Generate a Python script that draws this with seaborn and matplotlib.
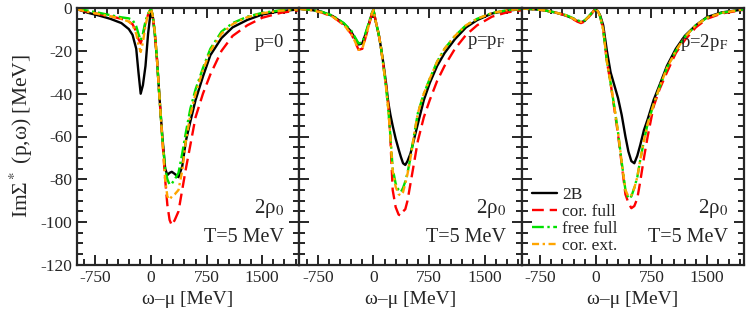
import numpy as np
import pandas as pd
import matplotlib
matplotlib.use("Agg")
import matplotlib.pyplot as plt
import matplotlib.ticker as ticker
import seaborn as sns

# ---- data (omega - mu in MeV, Im Sigma* in MeV) ----
x_p0 = [-1000, -850, -700, -550, -400, -300, -250, -200, -170, -140, -110, -75, -40, -10, 0,
        20, 50, 80, 110, 150, 190, 220, 250, 280, 320, 370, 420, 470, 530, 600, 700, 800,
        950, 1100, 1300, 1500, 1750, 2000]
b2_p0 = [-0.5, -2.2, -3.5, -5.0, -7.0, -9.8, -12.5, -19, -30, -40, -36, -27, -12, -3, -1.0,
         -3, -12, -24, -40, -59, -75, -78, -77, -76.5, -77.5, -79, -74, -62, -53, -43, -32, -22,
         -14, -9, -5.5, -3.0, -1.4, -0.6]
cf_p0 = [-0.5, -1.8, -2.8, -3.8, -5.0, -6.3, -7.5, -11, -14.5, -16.5, -13, -7, -3, -0.8, -0.5,
         -3, -11, -24, -40, -60, -80, -92, -99, -101.5, -99, -95, -85, -75, -64, -51, -40, -31,
         -20, -13, -8, -4.5, -2.2, -1.0]
ff_p0 = [-0.3, -1.2, -2.2, -3.3, -4.3, -4.8, -5.5, -8.5, -12, -15, -12, -6, -2.5, -0.8, -0.5,
         -3, -11, -24, -40, -60, -75, -80, -82.5, -82, -80, -77, -68, -58, -47, -38, -28, -19,
         -11, -7, -4, -2.2, -1.0, -0.5]
ce_p0 = [-0.5, -1.8, -2.8, -3.8, -5.0, -6.3, -7.8, -12, -17, -20.5, -16, -8, -3, -0.8, -0.5,
         -3, -11, -24, -40, -60, -80, -88, -89.5, -88, -87, -85, -76, -62, -50, -40, -29, -20,
         -12, -7.5, -4.2, -2.4, -1.2, -0.6]

x_pf = [-1000, -850, -700, -550, -400, -300, -250, -200, -150, -100, -50, -20, 0, 30, 70, 100,
        135, 170, 200, 230, 260, 300, 340, 370, 400, 430, 460, 500, 550, 600, 680, 760, 860,
        960, 1100, 1250, 1400, 1600, 1800, 2000]
b2_pf = [-0.3, -0.8, -1.7, -3.7, -7.2, -11, -14, -17, -16.5, -11.5, -6, -2.5, -0.8, -6, -12, -18,
         -26, -35, -44, -50, -55, -61, -66, -69.5, -72.5, -73.3, -71.5, -68, -61, -54, -43, -35,
         -27, -21, -14.5, -9, -5.6, -2.5, -1.2, -0.5]
cf_pf = [-0.3, -0.9, -2.0, -4.0, -7.8, -12, -15.5, -19.5, -19, -13, -6.5, -2.5, -0.8, -6, -12, -18,
         -27, -36, -45, -62, -85, -93, -96.5, -97, -95, -94, -90, -82, -72, -62, -51, -43,
         -34, -27, -19, -12.5, -8, -4, -2, -1]
ff_pf = [-0.3, -0.8, -1.7, -3.5, -7.0, -10.5, -13.5, -16.5, -16, -11, -5.5, -2.2, -0.8, -6, -12, -18,
         -27, -37, -47, -60, -75, -82, -85, -86, -84, -81, -77, -70, -59, -49, -40, -33,
         -25, -19, -13, -8, -5, -2.3, -1, -0.4]
ce_pf = [-0.3, -0.9, -2.0, -4.0, -7.8, -12, -15.5, -19.5, -19, -13, -6.5, -2.5, -0.8, -6, -12, -18,
         -27, -37, -47, -61, -76, -83.5, -87, -87.5, -86, -82, -77.5, -70, -59, -49, -40, -33,
         -25, -19, -13, -8, -5, -2.3, -1, -0.4]

x_2pf = [-1000, -850, -700, -550, -400, -300, -250, -200, -150, -100, -50, -20, 0, 30, 60, 100,
         150, 200, 250, 300, 350, 400, 440, 480, 520, 560, 600, 650, 700, 780, 860, 960, 1080,
         1200, 1350, 1500, 1700, 2000]
b2_2pf = [-0.2, -0.5, -1.0, -2.0, -3.5, -5.0, -6.0, -6.6, -6.0, -4.2, -2.2, -1.0, -0.5, -1.5, -3.5, -8,
          -20, -30, -36, -42, -50, -60, -67, -71.5, -72.5, -69, -64, -57, -52, -43, -36, -27, -19,
          -13, -8, -4.2, -2, -0.6]
cf_2pf = [-0.2, -0.5, -1.0, -2.0, -3.5, -5.3, -6.3, -7.0, -6.3, -4.4, -2.3, -1.0, -0.5, -1.5, -4, -10,
          -25, -35, -47, -59, -73, -87, -91, -93.5, -92.5, -89, -81, -70, -60, -46, -38, -30, -21,
          -15, -9, -5, -2.5, -0.8]
ff_2pf = [-0.2, -0.5, -1.0, -2.0, -3.3, -4.8, -5.7, -6.2, -5.7, -4.0, -2.1, -1.0, -0.5, -1.5, -4, -10,
          -25, -35, -46, -58, -72, -85, -89, -88, -84, -79, -71, -62, -54, -45, -37, -28, -20,
          -13.5, -8, -4.5, -2.2, -0.6]
ce_2pf = [-0.2, -0.5, -1.0, -2.0, -3.4, -5.0, -6.0, -6.5, -6.0, -4.2, -2.2, -1.0, -0.5, -1.5, -4, -10,
          -25, -35, -46, -58, -72, -85, -88, -87.5, -84, -79, -71, -62, -54, -45, -37, -28, -20,
          -13.5, -8, -4.5, -2.2, -0.6]

panel_labels = ["p=0", r"p=p$_\mathrm{F}$", r"p=2p$_\mathrm{F}$"]
series_names = ["2B", "cor. full", "free full", "cor. ext."]
x_ticks = [-750, 0, 750, 1500]

panels = [
    (x_p0, [b2_p0, cf_p0, ff_p0, ce_p0]),
    (x_pf, [b2_pf, cf_pf, ff_pf, ce_pf]),
    (x_2pf, [b2_2pf, cf_2pf, ff_2pf, ce_2pf]),
]

colors = ["black", "#ff0000", "#00e000", "#ffa500"]
styles = ["-", (0, (5, 2.5)), (0, (5, 1.5, 1, 1.5)), (0, (3, 1.5, 1, 1.5))]

sns.set_style("ticks")
plt.rcParams["font.family"] = ["Liberation Serif", "DejaVu Serif"]
plt.rcParams["mathtext.fontset"] = "stix"
plt.rcParams["axes.unicode_minus"] = False

fig, axes = plt.subplots(1, 3, figsize=(7.47, 3.12), dpi=100, sharey=True)
fig.subplots_adjust(left=0.103, right=0.996, bottom=0.151, top=0.974, wspace=0)

for i, (ax, (xs, ys)) in enumerate(zip(axes, panels)):
    for name, y, c, ls in zip(series_names, ys, colors, styles):
        sns.lineplot(x=xs, y=y, ax=ax, color=c, linestyle=ls, linewidth=1.7,
                     label=name if i == 2 else None, legend=False)
    ax.set_xlim(-1000, 2000)
    ax.set_ylim(-120, 0)
    ax.set_xticks(x_ticks)
    ax.xaxis.set_minor_locator(ticker.MultipleLocator(150))
    ax.yaxis.set_major_locator(ticker.MultipleLocator(20))
    ax.yaxis.set_minor_locator(ticker.MultipleLocator(5))
    ax.tick_params(which="both", direction="in", top=True, right=True, width=1.4)
    ax.tick_params(which="major", length=7.5, labelsize=12.5)
    ax.tick_params(which="minor", length=4)
    for sp in ax.spines.values():
        sp.set_linewidth(1.6)
    ax.set_xlabel("ω–μ [MeV]", fontsize=14)
    ax.text(0.93, 0.865, panel_labels[i], transform=ax.transAxes,
            ha="right", va="center", fontsize=13.5)
    ax.text(0.93, 0.22, r"2ρ$_0$", transform=ax.transAxes,
            ha="right", va="center", fontsize=15)
    ax.text(0.93, 0.105, "T=5 MeV", transform=ax.transAxes,
            ha="right", va="center", fontsize=14.5)

axes[0].set_ylabel(r"ImΣ$^*$ (p,ω) [MeV]", fontsize=15.5)
axes[0].yaxis.set_major_formatter(ticker.FuncFormatter(lambda v, pos: f"{int(v)}"))
axes[0].xaxis.set_major_formatter(ticker.FuncFormatter(lambda v, pos: f"{int(v)}"))

axes[2].legend(loc="lower left", bbox_to_anchor=(0.0, 0.0), frameon=False,
               fontsize=12.5, handlelength=1.45, handletextpad=0.3, labelspacing=0.05,
               borderpad=0.3, borderaxespad=0.3)

fig.savefig("out.png", dpi=100)
